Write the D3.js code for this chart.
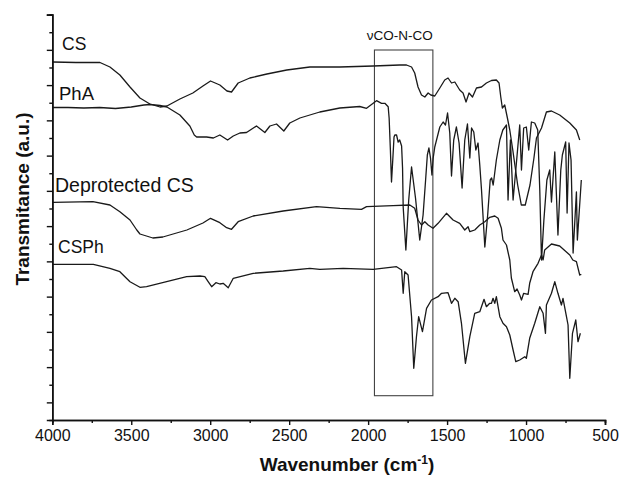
<!DOCTYPE html>
<html>
<head>
<meta charset="utf-8">
<script src="https://cdn.jsdelivr.net/npm/d3@7"></script>
<style>
  body { margin: 0; background: #fff; }
  svg text { font-family: "Liberation Sans", Arial, sans-serif; fill: #111; }
</style>
</head>
<body>
<script>

// spectra: [wavenumber (cm-1), transmittance (a.u.)]

const csSpectrum = [[3996,358],[3850,357.5],[3698,357.5],[3635,353],[3572,345],[3508,333],[3445,322],[3382,316],[3318,313],[3274,314],[3192,321],[3110,327],[3046,334],[2998,339],[2939,335],[2894,329],[2865,328],[2823,337],[2749,342],[2641,346],[2515,350],[2369,353],[2179,353],[1968,354],[1800,355],[1757,355],[1725,353],[1705,347],[1684,333],[1662,325],[1641,323],[1620,327],[1603,325],[1578,324],[1546,332],[1515,340],[1494,342],[1472,337],[1451,338],[1420,330],[1399,327],[1380,318],[1361,327],[1339,323],[1314,332],[1282,333],[1251,337],[1219,339.5],[1188,340],[1171,337],[1160,323],[1150,312],[1135,315],[1118,302],[1103,290],[1084,270],[1053,235],[1030,215],[1005,215],[975,235],[950,262],[934,282],[902,292],[871,308],[839,309],[787,305],[723,297],[681,290],[660,280]];

const phaSpectrum = [[3996,312.5],[3900,312.5],[3800,312],[3700,312.5],[3600,311.5],[3500,313],[3420,315],[3380,315.5],[3318,314.5],[3274,313],[3192,305],[3129,294],[3101,285],[3086,283],[3023,283],[2980,282],[2939,285],[2890,280],[2854,284],[2812,287],[2770,287.5],[2707,294],[2654,287.5],[2622,294],[2580,296],[2534,289],[2496,297],[2432,302],[2306,308],[2179,312],[2053,313.5],[2010,311.7],[1968,316.7],[1947,319.3],[1915,316.7],[1894,316.7],[1873,313.3],[1867,302],[1859,270],[1852,238],[1844,260],[1836,283],[1831,285],[1820,285],[1810,278],[1800,280],[1788,274],[1782,252],[1778,213],[1761,170],[1743,220],[1725,253],[1700,222],[1673,180],[1652,205],[1636,240],[1625,265],[1615,272],[1605,262],[1596,245],[1588,262],[1578,273],[1546,293],[1525,298],[1510,295],[1497,307],[1483,287],[1472,244],[1458,280],[1441,293],[1424,277],[1405,232],[1388,280],[1371,296],[1356,262],[1345,292],[1331,288],[1318,270],[1304,277],[1293,255],[1282,230],[1261,173],[1243,205],[1227,240],[1218,242],[1208,235],[1188,260],[1166,280],[1147,290],[1124,295],[1114,220],[1099,280],[1082,220],[1061,257],[1040,295],[1029,250],[1015,292],[998,293],[983,270],[966,298],[945,297],[926,290],[913,230],[902,160],[887,200],[868,240],[850,250],[839,218],[818,268],[798,185],[780,250],[770,265],[749,278],[740,207],[728,277],[715,260],[702,167],[681,228],[675,180],[650,240]];

const deprotectedSpectrum = [[3996,217.7],[3743,218.3],[3635,215],[3572,208.3],[3508,200],[3465,190],[3445,186],[3363,182],[3300,183],[3148,190],[3046,197],[2998,201.7],[2939,197.3],[2896,192.3],[2865,190.7],[2823,198.3],[2728,204],[2538,209],[2327,213.3],[2179,211.7],[2042,210.7],[2010,213.3],[1842,214.3],[1736,215],[1705,211.7],[1684,200],[1662,195],[1641,198.3],[1620,195],[1589,191.7],[1557,196.7],[1504,206.7],[1462,200],[1420,196.7],[1388,190],[1367,193.3],[1356,188.3],[1325,190],[1293,195],[1261,198.3],[1230,202.7],[1198,204],[1177,201.7],[1156,191.7],[1146,180],[1124,175],[1103,160],[1093,142],[1072,128.3],[1057,131],[1040,125],[1029,120],[1015,126.7],[987,125.7],[977,136.7],[956,148.3],[924,156.7],[902,165],[892,160],[882,170],[839,176],[787,174],[723,165],[704,160],[681,158.3],[660,145],[650,145.7]];

const csphSpectrum = [[3996,155.7],[3740,155.7],[3635,151.7],[3572,148.3],[3508,138.3],[3445,132.7],[3403,133.3],[3276,138.3],[3149,143.3],[3065,144],[3034,143.3],[3013,138.3],[2991,133.3],[2964,137.3],[2939,136],[2918,136.7],[2886,132.3],[2854,141.7],[2728,146.7],[2538,149],[2369,151.7],[2306,150.7],[2158,151.7],[1968,150.7],[1820,153.3],[1788,150],[1778,126.7],[1768,148.3],[1747,145],[1725,103.3],[1711,51.7],[1694,83.3],[1680,103.3],[1656,88.3],[1630,111.7],[1599,120],[1557,123.3],[1535,126.7],[1494,127.3],[1472,116.7],[1451,121.7],[1430,118.3],[1409,96.7],[1384,56.7],[1356,83.3],[1325,106.7],[1293,108.3],[1266,120.7],[1251,113.3],[1230,116.7],[1219,116.7],[1209,121.7],[1198,116.7],[1188,123.3],[1166,103.3],[1146,96.7],[1124,93.3],[1103,85],[1082,70],[1065,58.3],[1040,60],[1008,63.3],[998,61.7],[977,81.7],[945,96.7],[913,113.3],[892,106.7],[877,86.7],[871,115],[839,126.7],[818,138.3],[798,126.7],[776,115],[766,121.7],[744,103.3],[734,95],[723,41.7],[706,86.7],[685,100],[671,78.3],[656,86.7]];

const seriesNames = ["CS", "PhA", "Deprotected CS", "CSPh"];
const xTickValues = [4000, 3500, 3000, 2500, 2000, 1500, 1000, 500];
const bandRange = [1960, 1590];      // box round the imide band
const bandLimits = [24.3, 370];      // a.u.
const bandLabel = "\u03BDCO-N-CO";

const w = 619;
const h = 477;
const margin = {top: 14.6, right: 14, bottom: 57, left: 52.3};

const xScale = d3.scaleLinear()
    .domain([4000, 500])
    .range([margin.left, w - margin.right]);

const yScale = d3.scaleLinear()
    .domain([0, 405.4])
    .range([h - margin.bottom, margin.top]);

const svg = d3.select("body")
  .append("svg")
    .attr("width", w)
    .attr("height", h);

svg.append("rect")
    .attr("width", w)
    .attr("height", h)
    .attr("fill", "white");

// box round the band

svg.append("rect")
    .attr("x", xScale(bandRange[0]))
    .attr("y", yScale(bandLimits[1]))
    .attr("width", xScale(bandRange[1]) - xScale(bandRange[0]))
    .attr("height", yScale(bandLimits[0]) - yScale(bandLimits[1]))
    .attr("fill", "none")
    .attr("stroke", "#444")
    .attr("stroke-width", 1.1);

svg.append("text")
    .attr("x", xScale((bandRange[0] + bandRange[1]) / 2) - 4)
    .attr("y", yScale(bandLimits[1]) - 10)
    .attr("text-anchor", "middle")
    .style("font-size", "13.5px")
    .text(bandLabel);

// spectra

const line = d3.line()
    .x(d => xScale(d[0]))
    .y(d => yScale(d[1]));

[csSpectrum, phaSpectrum, deprotectedSpectrum, csphSpectrum].forEach(s => {
  svg.append("path")
      .datum(s)
      .attr("d", line)
      .attr("fill", "none")
      .attr("stroke", "#1a1a1a")
      .attr("stroke-width", 1.3)
      .attr("stroke-linejoin", "round");
});

// series labels

const labelPos = [[62, 50], [59, 100], [55, 192], [58, 253]];
const labelSize = [17.5, 18.5, 19.5, 17.5];
svg.selectAll(".lab")
  .data(seriesNames)
  .enter().append("text")
    .attr("class", "lab")
    .attr("x", (d, i) => labelPos[i][0])
    .attr("y", (d, i) => labelPos[i][1])
    .style("font-size", (d, i) => labelSize[i] + "px")
    .text(d => d);

// axes

const xAxis = d3.axisBottom(xScale)
    .tickValues(xTickValues)
    .tickSize(5)
    .tickPadding(5)
    .tickFormat(d3.format("d"));

const xMinor = d3.axisBottom(xScale)
    .tickValues(d3.range(3750, 500, -500))
    .tickSize(3)
    .tickFormat("");

const gx = svg.append("g")
    .attr("transform", `translate(0, ${h - margin.bottom})`)
    .call(xAxis);
svg.append("g")
    .attr("transform", `translate(0, ${h - margin.bottom})`)
    .call(xMinor);

const yStep = 405.4 / 23;
const yAxis = d3.axisLeft(yScale)
    .tickValues(d3.range(1, 24, 2).map(i => i * yStep))
    .tickSize(5.5)
    .tickFormat("");
const yMinor = d3.axisLeft(yScale)
    .tickValues(d3.range(2, 23, 2).map(i => i * yStep))
    .tickSize(3)
    .tickFormat("");

svg.append("g")
    .attr("transform", `translate(${margin.left}, 0)`)
    .call(yAxis);
svg.append("g")
    .attr("transform", `translate(${margin.left}, 0)`)
    .call(yMinor);

svg.selectAll(".domain")
    .attr("stroke", "#111")
    .attr("stroke-width", 1.6);
svg.selectAll(".tick line")
    .attr("stroke", "#111")
    .attr("stroke-width", 1.4);

gx.selectAll("text")
    .style("font-size", "16px")
    .style("font-family", "'Liberation Sans', Arial, sans-serif")
    .attr("fill", "#111");

// axis titles

const xt = svg.append("text")
    .attr("x", 347)
    .attr("y", 471)
    .attr("text-anchor", "middle")
    .style("font-size", "19px")
    .style("font-weight", "bold");
xt.append("tspan").text("Wavenumber (cm");
xt.append("tspan").attr("dy", -7).style("font-size", "12px").text("-1");
xt.append("tspan").attr("dy", 7).text(")");

svg.append("text")
    .attr("transform", "translate(29, 199) rotate(-90)")
    .attr("text-anchor", "middle")
    .style("font-size", "19px")
    .style("font-weight", "bold")
    .text("Transmitance (a.u.)");

</script>
</body>
</html>
